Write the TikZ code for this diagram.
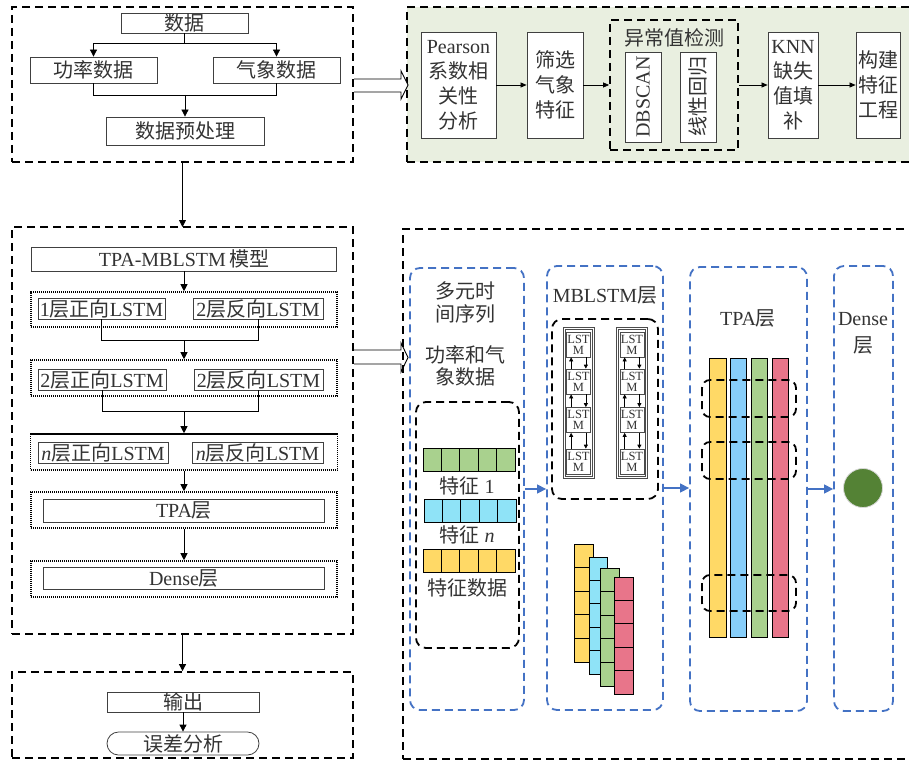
\documentclass[tikz,border=0pt]{standalone}
\usepackage{fontspec}
\setmainfont{Liberation Serif}
\newfontfamily\cjk{Noto Sans CJK SC}
\usetikzlibrary{arrows.meta}
\newcommand\zh[1]{{\cjk #1}}
\definecolor{bggreen}{RGB}{233,239,224}
\definecolor{blueone}{RGB}{68,114,196}
\definecolor{fgreen}{RGB}{169,209,142}
\definecolor{fcyan}{RGB}{143,227,247}
\definecolor{fsky}{RGB}{135,206,250}
\definecolor{fyellow}{RGB}{255,217,102}
\definecolor{fpink}{RGB}{232,117,138}
\definecolor{dgreen}{RGB}{84,130,53}
\tikzset{
  txt/.style={font=\fontsize{20pt}{24pt}\selectfont, text=black!80},
  box/.style={draw=black!75, line width=0.8pt, inner sep=0pt, txt, align=center},
  bigdash/.style={draw=black, line width=1.8pt, dash pattern=on 8pt off 5pt, inner sep=0pt},
  dotbox/.style={draw=black, line width=1.6pt, dash pattern=on 1.2pt off 0.8pt, inner sep=0pt},
  bluedash/.style={draw=blueone, line width=1.8pt, dash pattern=on 8pt off 5pt, rounded corners=10pt, inner sep=0pt},
  arr/.style={-{Triangle[length=7pt,width=7pt]}, line width=0.8pt},
  sarr/.style={-{Triangle[length=4pt,width=4pt]}, line width=0.7pt},
  barr/.style={draw=blueone, line width=1.3pt, -{Triangle[length=9pt,width=9pt]}},
  lcell/.style={draw=black!70, line width=0.7pt, inner sep=0pt, align=center,
    font=\fontsize{12.5pt}{11pt}\selectfont, text=black!80, minimum width=24pt, minimum height=25pt},
  colbox/.style={draw=black!70, line width=0.7pt, inner sep=0pt},
  cell/.style={draw=black, line width=0.8pt},
  rdash/.style={draw=black, line width=1.8pt, dash pattern=on 8pt off 5pt, rounded corners=8pt},
}
\begin{document}
\begin{tikzpicture}[x=1pt,y=-1pt]
\useasboundingbox (0,0) rectangle (909,762);

% ---------- top-left block ----------
\node[bigdash, minimum width=341pt, minimum height=155pt] (tlbox) at (182.5,84.5) {};
\node[box, minimum width=127pt, minimum height=20pt] (d) at (184.5,23) {\zh{数据}};
\node[box, minimum width=127pt, minimum height=26pt] (pw) at (93.5,70) {\zh{功率数据}};
\node[box, minimum width=127pt, minimum height=26pt] (mt) at (276.5,70) {\zh{气象数据}};
\node[box, minimum width=158pt, minimum height=28pt] (pre) at (185,131) {\zh{数据预处理}};
\draw[arr] (d.south) -- ++(0,10) -| (pw.north);
\draw[arr] (d.south) -- ++(0,10) -| (mt.north);
\draw[line width=0.8pt] (pw.south) -- ++(0,12) -| (mt.south);
\coordinate (m1) at (185,95);
\draw[arr] (m1) -- (pre.north);

% ---------- top-right green block ----------
\node[bigdash, fill=bggreen, minimum width=505pt, minimum height=155pt] (gbox) at (659.5,84.5) {};
\node[box, fill=white, minimum width=75pt, minimum height=106pt, font=\fontsize{20pt}{25pt}\selectfont] (pear) at (458.5,85) {Pearson\\\zh{系数相}\\\zh{关性}\\\zh{分析}};
\node[box, fill=white, minimum width=56pt, minimum height=106pt, font=\fontsize{20pt}{25pt}\selectfont] (scr) at (555,85) {\zh{筛选}\\\zh{气象}\\\zh{特征}};
\node[bigdash, minimum width=128pt, minimum height=130pt] (anom) at (674,85) {};
\node[txt, inner sep=0pt] (anomt) at (674,38) {\zh{异常值检测}};
\node[box, fill=white, minimum width=36pt, minimum height=90pt] (dbb) at (643,97) {};
\node[txt, rotate=90, inner sep=0pt] (dbt) at (dbb.center) {DBSCAN};
\node[box, fill=white, minimum width=36pt, minimum height=90pt] (lrb) at (698,97) {};
\node[txt, rotate=90, inner sep=0pt] (lrt) at (lrb.center) {\zh{线性回归}};
\node[box, fill=white, minimum width=50pt, minimum height=106pt, font=\fontsize{20pt}{25pt}\selectfont] (knn) at (793,85) {KNN\\\zh{缺失}\\\zh{值填}\\\zh{补}};
\node[box, fill=white, minimum width=44pt, minimum height=106pt, font=\fontsize{20pt}{25pt}\selectfont] (feat) at (878,85) {\zh{构建}\\\zh{特征}\\\zh{工程}};
\draw[sarr, -{Triangle[length=6pt,width=5pt]}] (pear.east) -- (scr.west);
\draw[sarr, -{Triangle[length=6pt,width=5pt]}] (scr.east) -- (anom.west);
\draw[sarr, -{Triangle[length=6pt,width=5pt]}] (anom.east) -- (knn.west);
\draw[sarr, -{Triangle[length=6pt,width=5pt]}] (knn.east) -- (feat.west);

% hollow arrow 1
\draw[line width=0.9pt, fill=white] (354,79) -- (401,79) -- (401,71) -- (408,85) -- (401,99) -- (401,92) -- (354,92);

% ---------- middle-left block ----------
\draw[arr] (tlbox.south) -- (182.5,227);
\node[bigdash, minimum width=341pt, minimum height=407pt] (mbox) at (182.5,430.5) {};
\node[box, minimum width=305pt, minimum height=24pt] (model) at (184,259) {TPA-MBLSTM\,\zh{模型}};
\node[dotbox, minimum width=306pt, minimum height=35pt] (L1) at (184,309.5) {};
\node[box, minimum width=127pt, minimum height=21pt] (l1f) at (101.5,308.5) {1\zh{层正向}LSTM};
\node[box, minimum width=130pt, minimum height=21pt] (l1b) at (258,308.5) {2\zh{层反向}LSTM};
\node[dotbox, minimum width=306pt, minimum height=36pt] (L2) at (184,378) {};
\node[box, minimum width=128pt, minimum height=21pt] (l2f) at (102,379.5) {2\zh{层正向}LSTM};
\node[box, minimum width=129pt, minimum height=21pt] (l2b) at (258.5,379.5) {2\zh{层反向}LSTM};
\node[dotbox, minimum width=307pt, minimum height=36pt] (L3) at (184,452) {};
\node[box, minimum width=130pt, minimum height=21pt] (l3f) at (103,452.5) {\textit{n}\zh{层正向}LSTM};
\node[box, minimum width=131pt, minimum height=21pt] (l3b) at (257.5,452.5) {\textit{n}\zh{层反向}LSTM};
\node[dotbox, minimum width=306pt, minimum height=36pt] (L4) at (184,510) {};
\node[box, minimum width=281pt, minimum height=23pt] (tpa) at (184,510.5) {TPA\zh{层}};
\node[dotbox, minimum width=306pt, minimum height=36pt] (L5) at (184,579) {};
\node[box, minimum width=281pt, minimum height=22pt] (dense) at (184,578) {Dense\zh{层}};
\draw[arr] (model.south) -- (L1.north);
\draw[line width=0.8pt] (l1f.south) -- ++(0,21) -| (l1b.south);
\coordinate (j1) at (184,340);
\draw[arr] (j1) -- (L2.north);
\draw[line width=0.8pt] (l2f.south) -- ++(0,21) -| (l2b.south);
\coordinate (j2) at (184,411);
\draw[arr] (j2) -- (L3.north);
\draw[arr] (L3.south) -- (L4.north);
\draw[arr] (L4.south) -- (L5.north);

% hollow arrow 2
\draw[line width=0.9pt, fill=white] (354,350) -- (401,350) -- (401,343) -- (408,357.5) -- (401,372) -- (401,364) -- (354,364);

% ---------- bottom-left block ----------
\node[bigdash, minimum width=341pt, minimum height=86pt] (bbox) at (182.5,715) {};
\draw[arr] (mbox.south) -- (bbox.north);
\node[box, minimum width=152pt, minimum height=20pt] (out) at (183,702) {\zh{输出}};
\node[box, rounded corners=11.5pt, minimum width=152pt, minimum height=23pt] (err) at (183,743.5) {\zh{误差分析}};
\draw[arr] (out.south) -- (err.north);

% ---------- bottom-right block ----------
\node[bigdash, minimum width=512pt, minimum height=530pt] (rbox) at (659,494) {};
\node[bluedash, minimum width=114pt, minimum height=442pt] (p1) at (467,489) {};
\node[bluedash, minimum width=116pt, minimum height=444pt] (p2) at (605,488) {};
\node[bluedash, minimum width=117pt, minimum height=444pt] (p3) at (748.5,489) {};
\node[bluedash, minimum width=59pt, minimum height=445pt] (p4) at (863.5,488.5) {};

% panel 1
\node[txt, align=center, inner sep=0pt, font=\fontsize{20pt}{23pt}\selectfont] (p1t) at (465,302.5) {\zh{多元时}\\\zh{间序列}};
\node[txt, align=center, inner sep=0pt, font=\fontsize{20pt}{22pt}\selectfont] (p1s) at (465,366) {\zh{功率和气}\\\zh{象数据}};
\node[draw=black, line width=1.8pt, dash pattern=on 8pt off 5pt, rounded corners=10pt, minimum width=103pt, minimum height=246pt, inner sep=0pt] (fbox) at (467.5,525) {};
\foreach \i in {0,...,4} {
  \draw[cell, fill=fgreen] (423+\i*18.4,448) rectangle ++(18.4,23);
  \draw[cell, fill=fcyan] (424+\i*18.4,499) rectangle ++(18.4,23);
  \draw[cell, fill=fyellow] (423+\i*18.4,549) rectangle ++(18.4,23);
}
\node[txt, inner sep=0pt] (f1) at (467,486) {\zh{特征} 1};
\node[txt, inner sep=0pt] (fn) at (467,535) {\zh{特征} \textit{n}};
\node[txt, inner sep=0pt] (fd) at (467,588) {\zh{特征数据}};

% panel 2
\node[txt, inner sep=0pt] (p2t) at (605,295) {MBLSTM\zh{层}};
\node[draw=black, line width=1.8pt, dash pattern=on 8pt off 5pt, rounded corners=10pt, minimum width=106pt, minimum height=180pt, inner sep=0pt] (mbl) at (605,409) {};
\node[colbox, minimum width=31pt, minimum height=151pt] (c1) at (578.5,402.5) {};
\node[colbox, minimum width=27pt, minimum height=147pt] (c1i) at (578.5,402.5) {};
\node[colbox, minimum width=31pt, minimum height=151pt] (c2) at (632,402.5) {};
\node[colbox, minimum width=27pt, minimum height=147pt] (c2i) at (632,402.5) {};
\foreach \y [count=\k] in {344.5,381.5,420,461.5} {
  \node[lcell, fill=white] (a\k) at (578.5,\y) {LST\\M};
  \node[lcell, fill=white] (b\k) at (632,\y) {LST\\M};
}
\foreach \u/\v in {1/2,2/3,3/4} {
  \draw[sarr] ([xshift=5pt]a\v.north west) -- ([xshift=5pt]a\u.south west);
  \draw[sarr] ([xshift=-5pt]a\u.south east) -- ([xshift=-5pt]a\v.north east);
  \draw[sarr] ([xshift=5pt]b\v.north west) -- ([xshift=5pt]b\u.south west);
  \draw[sarr] ([xshift=-5pt]b\u.south east) -- ([xshift=-5pt]b\v.north east);
}
\foreach \i in {0,...,4} {
  \draw[cell, fill=fyellow] (574,544+\i*23.6) rectangle ++(19,23.6);
}
\foreach \i in {0,...,4} {
  \draw[cell, fill=fcyan] (589,557+\i*23.4) rectangle ++(18,23.4);
}
\foreach \i in {0,...,4} {
  \draw[cell, fill=fgreen] (600,568+\i*23.6) rectangle ++(19,23.6);
}
\foreach \i in {0,...,4} {
  \draw[cell, fill=fpink] (614,577+\i*23.4) rectangle ++(19,23.4);
}

% panel 3
\node[txt, inner sep=0pt] (p3t) at (748,318) {TPA\zh{层}};
\draw[cell, fill=fyellow] (709,358) rectangle (726,637);
\draw[cell, fill=fsky] (730,358) rectangle (746,637);
\draw[cell, fill=fgreen] (751,358) rectangle (767,637);
\draw[cell, fill=fpink] (772,358) rectangle (788,637);
\draw[rdash] (702,380) rectangle (796,417);
\draw[rdash] (702,442) rectangle (796,479);
\draw[rdash] (702,575) rectangle (796,611);

% panel 4
\node[txt, align=center, inner sep=0pt, font=\fontsize{20pt}{27pt}\selectfont] (p4t) at (863,333) {Dense\\\zh{层}};
\node[circle, fill=dgreen, draw=black!15, line width=0.8pt, minimum size=39pt, inner sep=0pt] (dc) at (863,488) {};

% blue connectors
\draw[barr] (p1.east) -- (p1.east -| p2.west);
\draw[barr] (p2.east) -- (p2.east -| p3.west);
\draw[barr] (p3.east) -- (p3.east -| p4.west);
\end{tikzpicture}
\end{document}
